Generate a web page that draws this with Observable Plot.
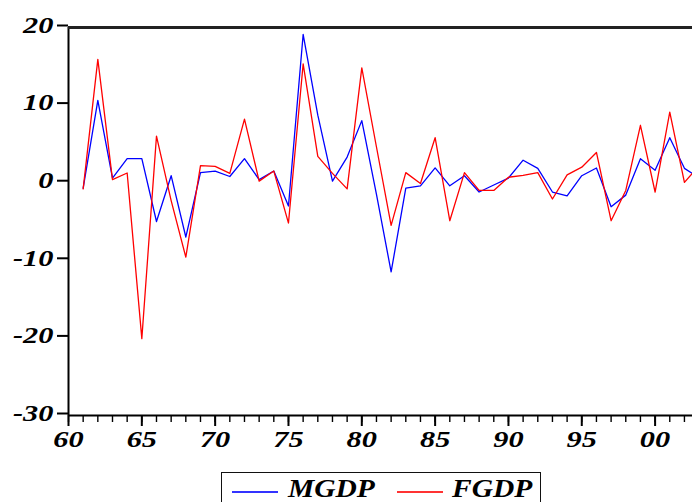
<!DOCTYPE html>
<html>
<head>
<meta charset="utf-8">
<script src="https://cdn.jsdelivr.net/npm/d3@7"></script>
<script src="https://cdn.jsdelivr.net/npm/@observablehq/plot@0.6"></script>
<style>
  html, body { margin: 0; padding: 0; background: #fff; overflow: hidden; width: 692px; height: 502px; }
  #wrap { position: relative; width: 692px; height: 502px; }
  #legend {
    position: absolute; left: 221px; top: 472px; width: 320px; height: 40px;
    border: 1.5px solid #111; box-sizing: border-box; background: #fff;
    font-family: "Liberation Serif", "Times New Roman", serif; font-weight: bold; font-style: italic;
    font-size: 25px; color: #000;
  }
  #legend .sw { position: absolute; top: 18px; height: 1.5px; }
  #legend .lb { position: absolute; top: 6px; height: 20px; transform-origin: 0 0; transform: scaleX(1.18); line-height: 20px; }
</style>
</head>
<body>
<div id="wrap">
  <div id="chart"></div>
  <div id="legend">
    <div class="sw" style="left:10px; width:46px; background-color:#3333ff"></div>
    <div class="lb" style="left:66px">MGDP</div>
    <div class="sw" style="left:175px; width:46px; background-color:#ff3333"></div>
    <div class="lb" style="left:230px">FGDP</div>
  </div>
</div>
<script>
const years = [1961,1962,1963,1964,1965,1966,1967,1968,1969,1970,1971,1972,1973,1974,1975,1976,1977,1978,1979,1980,1981,1982,1983,1984,1985,1986,1987,1988,1989,1990,1991,1992,1993,1994,1995,1996,1997,1998,1999,2000,2001,2002,2003];
const mgdp = [-0.7,10.6,0.6,3.1,3.1,-5.0,0.9,-7.0,1.3,1.5,0.8,3.1,0.4,1.5,-3.0,19.1,8.7,0.2,3.3,8.0,-1.5,-11.5,-0.7,-0.4,1.9,-0.4,0.9,-1.2,-0.3,0.6,2.9,1.85,-1.2,-1.7,0.9,1.9,-3.1,-1.6,3.1,1.6,5.8,1.85,0.65];
const fgdp = [-0.8,15.9,0.4,1.25,-20.1,6.0,-2.3,-9.6,2.2,2.1,1.2,8.2,0.2,1.5,-5.2,15.3,3.4,1.2,-0.8,14.8,4.6,-5.5,1.3,-0.1,5.8,-4.9,1.3,-1.0,-1.0,0.7,0.95,1.3,-2.1,1.0,2.0,3.9,-4.9,-1.0,7.4,-1.2,9.1,0.05,2.2];
const xTicks = [1960,1965,1970,1975,1980,1985,1990,1995,2000];
const xMinorTicks = [1960,1961,1962,1963,1964,1965,1966,1967,1968,1969,1970,1971,1972,1973,1974,1975,1976,1977,1978,1979,1980,1981,1982,1983,1984,1985,1986,1987,1988,1989,1990,1991,1992,1993,1994,1995,1996,1997,1998,1999,2000,2001,2002];
const yTicks = [-30,-20,-10,0,10,20];

const rows = years.map((yr, i) => ({year: yr, mgdp: mgdp[i], fgdp: fgdp[i]}));

const chart = Plot.plot({
  width: 692,
  height: 470,
  marginLeft: 68,
  marginRight: 0,
  marginTop: 27,
  marginBottom: 55,
  x: {domain: [1960, 2002.55], label: null},
  y: {domain: [-30, 20], label: null},
  style: {
    fontFamily: "'Liberation Serif', 'Times New Roman', serif",
    fontWeight: "bold",
    fontStyle: "italic",
    fontSize: "23px",
    color: "#000",
    background: "#fff",
    overflow: "hidden"
  },
  marks: [
    Plot.axisX({ticks: xMinorTicks, tickSize: 7, tickFormat: () => "", strokeWidth: 1.4, label: null}),
    Plot.axisX({ticks: xTicks, tickSize: 11, tickPadding: 4, strokeWidth: 2, label: null,
      tickFormat: d => String(d % 100).padStart(2, "0"), fontSize: 23}),
    Plot.axisY({ticks: yTicks, tickSize: 11, tickPadding: 4, strokeWidth: 2, label: null, fontSize: 23, dy: -2,
      tickFormat: d => String(d)}),
    Plot.ruleY([-30], {strokeWidth: 2}),
    Plot.ruleX([1960], {strokeWidth: 2}),
    Plot.line(rows, {x: "year", y: "mgdp", stroke: "#0000ff", strokeWidth: 1.3, clip: true}),
    Plot.line(rows, {x: "year", y: "fgdp", stroke: "#ff0000", strokeWidth: 1.3, clip: true}),
    Plot.ruleY([20], {strokeWidth: 3, stroke: "#222"})
  ]
});
document.getElementById("chart").appendChild(chart);

// widen glyphs horizontally like the original bold-italic serif labels
chart.querySelectorAll("text").forEach(t => {
  if (!t.textContent) return;
  const b = t.getBBox();
  const cx = b.x + b.width / 2;
  const anchor = t.getAttribute("text-anchor") || getComputedStyle(t).textAnchor;
  const ox = anchor === "end" ? b.x + b.width : cx;
  const prev = t.getAttribute("transform") || "";
  t.setAttribute("transform", `${prev} translate(${ox},0) scale(1.32,1) translate(${-ox},0)`);
});
</script>
</body>
</html>
